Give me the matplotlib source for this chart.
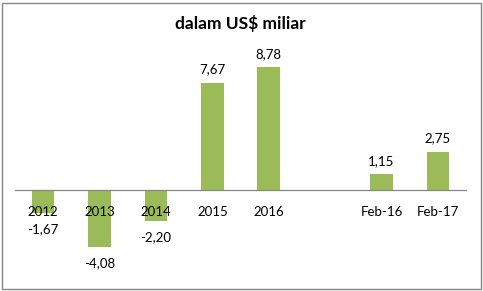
import numpy as np
import matplotlib
matplotlib.use('Agg')
import matplotlib.pyplot as plt
from matplotlib.patches import Rectangle

# data
categories = ['2012', '2013', '2014', '2015', '2016', '', 'Feb-16', 'Feb-17']
values = [-1.67, -4.08, -2.20, 7.67, 8.78, np.nan, 1.15, 2.75]
value_labels = ['-1,67', '-4,08', '-2,20', '7,67', '8,78', '', '1,15', '2,75']

plt.rcParams['font.family'] = ['Lato', 'DejaVu Sans']

fig = plt.figure(figsize=(4.83, 2.91), dpi=100)
W, H = 483, 291
# plot area in pixels: x 15..466, y 50..270 (from top)
ax = fig.add_axes([15 / W, (H - 270) / H, 451 / W, 220 / H])

x = np.arange(len(categories))
ax.bar(x, values, width=0.4, color='#9BBB59', zorder=1)

ax.set_xlim(-0.5, len(categories) - 0.5)
ax.set_ylim(-5.71, 10)

# zero line as category axis
for s in ['top', 'right', 'left']:
    ax.spines[s].set_visible(False)
ax.spines['bottom'].set_position(('data', 0))
ax.spines['bottom'].set_color('#868686')
ax.spines['bottom'].set_linewidth(0.9)
ax.set_yticks([])
ax.set_xticks(x)
ax.set_xticklabels(categories, fontsize=9.5)
ax.tick_params(axis='x', length=0, pad=11.5)

# data labels
for xi, v, lab in zip(x, values, value_labels):
    if np.isnan(v):
        continue
    off = 13 if v > 0 else -16
    ax.annotate(lab, (xi, v), xytext=(0, off * 0.72), textcoords='offset points',
                ha='center', va='center', fontsize=9.5)

fig.text(240 / W, 1 - 24 / H, 'dalam US$ miliar', ha='center', va='center',
         fontsize=12.5, fontweight='bold')

# chart border
fig.patches.append(Rectangle((1.5 / W, 2.5 / H), 479 / W, 286 / H, transform=fig.transFigure,
                             fill=False, edgecolor='#868686', linewidth=1.0))

fig.savefig('out.png', dpi=100)
